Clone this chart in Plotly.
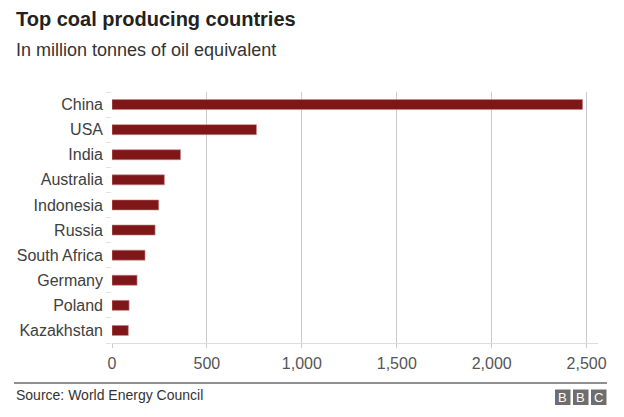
import plotly.graph_objects as go

countries = ["China", "USA", "India", "Australia", "Indonesia", "Russia",
             "South Africa", "Germany", "Poland", "Kazakhstan"]
production = [2479, 761, 361, 276, 246, 227, 174, 132, 90, 86]
x_ticks = [0, 500, 1000, 1500, 2000, 2500]

W, H = 624, 417
L, R, T, B = 112, 26, 92, 74
PW, PH = W - L - R, H - T - B


def px(x):
    return (x - L) / PW


def py(y):
    return (H - B - y) / PH


fig = go.Figure(go.Bar(
    x=production, y=countries, orientation="h",
    marker=dict(color="#7f1719", line=dict(color="#c98a8a", width=0.6)),
    width=0.4, hoverinfo="x+y",
))

fig.update_layout(
    width=W, height=H,
    margin=dict(l=L, r=R, t=T, b=B),
    paper_bgcolor="white", plot_bgcolor="white",
    font=dict(family="Liberation Sans, Arial, sans-serif", color="#404040"),
    showlegend=False,
    xaxis=dict(range=[0, 2560], tickvals=x_ticks, tickformat=",",
               showgrid=True, gridcolor="#cccccc", gridwidth=1,
               zeroline=False, showline=True, linecolor="#dddddd",
               ticks="outside", ticklen=4, tickcolor="#cccccc",
               ticklabelstandoff=2,
               tickfont=dict(size=16, color="#555555"),
               fixedrange=True),
    yaxis=dict(categoryorder="array", categoryarray=countries[::-1],
               autorange=False, range=[-0.5, len(countries) - 0.5],
               showgrid=False, zeroline=False, showline=False,
               ticks="outside", tickson="boundaries", ticklen=5,
               tickcolor="#e3e3e3", tickfont=dict(size=16, color="#404040"),
               ticklabelstandoff=8, fixedrange=True),
    bargap=0.6,
)

fig.add_annotation(text="<b>Top coal producing countries</b>", xref="paper", yref="paper",
                   x=px(14), y=py(19), xanchor="left", yanchor="middle",
                   showarrow=False, font=dict(size=20, color="#222222"))
fig.add_annotation(text="In million tonnes of oil equivalent", xref="paper", yref="paper",
                   x=px(14), y=py(50.5), xanchor="left", yanchor="middle",
                   showarrow=False, font=dict(size=18, color="#333333"))
fig.add_annotation(text="Source: World Energy Council", xref="paper", yref="paper",
                   x=px(14), y=py(395), xanchor="left", yanchor="middle",
                   showarrow=False, font=dict(size=14, color="#333333"))

fig.add_shape(type="line", xref="paper", yref="paper",
              x0=px(14), x1=px(607), y0=py(383), y1=py(383),
              line=dict(color="#222222", width=1))

box = 15.5
gap = 2.5
start = 555
for i, letter in enumerate(["B", "B", "C"]):
    x0 = start + i * (box + gap)
    fig.add_shape(type="rect", xref="paper", yref="paper",
                  x0=px(x0), x1=px(x0 + box), y0=py(389.5), y1=py(405),
                  fillcolor="#6e6e6e", line=dict(width=0))
    fig.add_annotation(text=letter, xref="paper", yref="paper",
                       x=px(x0 + box / 2), y=py(397.5),
                       xanchor="center", yanchor="middle", showarrow=False,
                       font=dict(size=13, color="white"))

fig.write_html("out.html", config={"displayModeBar": False},
               post_script="document.body.style.margin='0';")
